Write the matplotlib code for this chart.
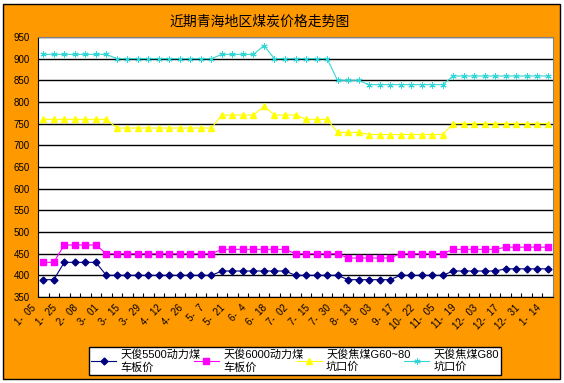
import numpy as np
import matplotlib
matplotlib.use('Agg')
import matplotlib.pyplot as plt
import matplotlib.transforms as mtransforms
from matplotlib.patches import Rectangle

plt.rcParams['font.family'] = ['Liberation Sans', 'Noto Sans CJK SC', 'DejaVu Sans']

# 周度价格 (49 期)
p5500 = [390, 390, 430, 430, 430, 430, 400, 400, 400, 400,
         400, 400, 400, 400, 400, 400, 400, 410, 410, 410,
         410, 410, 410, 410, 400, 400, 400, 400, 400, 390,
         390, 390, 390, 390, 400, 400, 400, 400, 400, 410,
         410, 410, 410, 410, 415, 415, 415, 415, 415]
p6000 = [430, 430, 470, 470, 470, 470, 450, 450, 450, 450,
         450, 450, 450, 450, 450, 450, 450, 460, 460, 460,
         460, 460, 460, 460, 450, 450, 450, 450, 450, 440,
         440, 440, 440, 440, 450, 450, 450, 450, 450, 460,
         460, 460, 460, 460, 465, 465, 465, 465, 465]
g6080 = [760, 760, 760, 760, 760, 760, 760, 740, 740, 740,
         740, 740, 740, 740, 740, 740, 740, 770, 770, 770,
         770, 790, 770, 770, 770, 760, 760, 760, 730, 730,
         730, 725, 725, 725, 725, 725, 725, 725, 725, 750,
         750, 750, 750, 750, 750, 750, 750, 750, 750]
g80 = [910, 910, 910, 910, 910, 910, 910, 900, 900, 900,
       900, 900, 900, 900, 900, 900, 900, 910, 910, 910,
       910, 930, 900, 900, 900, 900, 900, 900, 850, 850,
       850, 840, 840, 840, 840, 840, 840, 840, 840, 860,
       860, 860, 860, 860, 860, 860, 860, 860, 860]

date_labels = ['1-  05', '1-  25', '2-  08', '3-  01', '3-  15', '3-  29', '4-  12',
               '4-  26', '5-  7', '5-  21', '6-  4', '6-  18', '7-  02', '7-  15',
               '7-  30', '8-  13', '9-  03', '9-  17', '10-  22', '11-  05',
               '11-  19', '12-  03', '12-  17', '12-  31', '1-  14']

names = ['天俊5500动力煤\n车板价', '天俊6000动力煤\n车板价',
         '天俊焦煤G60~80\n坑口价', '天俊焦煤G80\n坑口价']

fig = plt.figure(figsize=(5.64, 3.83), dpi=100, facecolor='white')
fig.patches.append(Rectangle((3/564, 4/383), 557/564, 375/383, transform=fig.transFigure,
                             facecolor='#FF9900', edgecolor='black', lw=1, zorder=-1))

ax = fig.add_axes([38/564, 1-297/383, 515/564, 260/383])
ax.set_facecolor('white')

x = np.arange(len(p5500))
ax.plot(x, p5500, color='#000080', lw=0.8, marker='D', ms=3.5, label=names[0])
ax.plot(x, p6000, color='#FF00FF', lw=0.8, marker='s', ms=4, label=names[1])
ax.plot(x, g6080, color='#FFFF00', lw=0.8, marker='^', ms=5, label=names[2])
ax.plot(x, g80, color='#33D6D6', lw=0.8, marker=(6, 2, 0), ms=4.5, mew=0.7, label=names[3])

ax.set_ylim(350, 950)
ax.set_yticks(np.arange(350, 951, 50))
ax.grid(axis='y', color='black', lw=1)
ax.set_axisbelow(True)
ax.tick_params(axis='y', length=0, labelsize=7, pad=6)

ax.set_xlim(-0.5, len(x) - 0.5)
ax.set_xticks(np.arange(-0.5, len(x), 1))
ax.set_xticklabels([])
ax.tick_params(axis='x', which='major', direction='in', length=3, color='black')
ax.set_xticks(np.arange(0, len(x), 2), minor=True)
ax.set_xticklabels(date_labels, minor=True, rotation=45, ha='right', va='top', fontsize=7)
ax.tick_params(axis='x', which='minor', length=0, pad=4)
off = mtransforms.ScaledTranslation(-5/100, 0, fig.dpi_scale_trans)
for lab in ax.get_xticklabels(minor=True):
    lab.set_transform(lab.get_transform() + off)

for s in ['left', 'bottom']:
    ax.spines[s].set_color('black')
for s in ['top', 'right']:
    ax.spines[s].set_color('#808080')

fig.text(260/564, 1-22/383, '近期青海地区煤炭价格走势图', ha='center', va='center', fontsize=10)

leg = fig.legend(loc='center', ncol=4, bbox_to_anchor=(83/564, 8/383, 424/564, 28/383),
                 mode='expand', fontsize=8, frameon=True, fancybox=False,
                 edgecolor='black', framealpha=1, handlelength=2.2, handletextpad=0.4,
                 columnspacing=0.6, borderpad=0.25, labelspacing=0.2)
leg.get_frame().set_linewidth(1)

fig.savefig('out.png', dpi=100, facecolor=fig.get_facecolor())
